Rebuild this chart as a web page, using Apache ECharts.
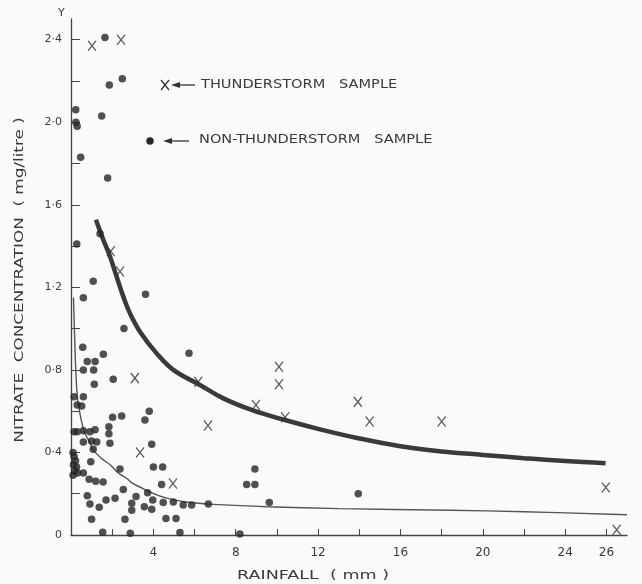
<!DOCTYPE html>
<html>
<head>
<meta charset="utf-8">
<script src="https://cdn.jsdelivr.net/npm/echarts@6/dist/echarts.min.js"></script>
<style>
html,body{margin:0;padding:0;background:#fafaf8;}
#chart{width:642px;height:584px;}
</style>
</head>
<body>
<div id="chart"></div>
<script>
// ---- Data ----
var xLabelValues = [4, 8, 12, 16, 20, 24, 26];
var xTickValues = [2, 4, 6, 8, 10, 12, 14, 16, 18, 20, 22, 24, 26];
var yLabelValues = [0, 0.4, 0.8, 1.2, 1.6, 2.0, 2.4];
var yTickValues = [0.2, 0.4, 0.6, 0.8, 1.0, 1.2, 1.4, 1.6, 1.8, 2.0, 2.2, 2.4];

var thunderstorm = [
  [1.02, 2.37], [2.43, 2.40], [1.93, 1.375], [2.38, 1.277], [3.1, 0.76],
  [3.35, 0.40], [4.95, 0.25], [6.18, 0.743], [6.65, 0.53], [8.98, 0.63],
  [10.1, 0.815], [10.1, 0.73], [10.4, 0.57], [13.93, 0.645], [14.5, 0.55],
  [18.0, 0.55], [25.97, 0.23], [26.5, 0.025]
];

var nonThunderstorm = [
  [1.81, 2.51], [1.65, 2.41], [2.49, 2.21], [1.86, 2.18], [0.23, 2.06],
  [1.49, 2.03], [0.24, 2.0], [0.3, 1.98], [0.47, 1.83], [1.78, 1.73],
  [0.28, 1.41], [1.41, 1.46], [1.08, 1.23], [0.6, 1.15], [3.62, 1.167],
  [2.57, 1.0], [5.73, 0.88], [0.57, 0.91], [0.79, 0.84], [1.17, 0.84],
  [1.57, 0.876], [0.6, 0.80], [1.1, 0.80], [1.13, 0.73], [2.05, 0.755],
  [0.6, 0.67], [0.15, 0.67], [0.52, 0.625], [0.3, 0.63],
  [2.02, 0.57], [2.46, 0.577], [1.84, 0.525], [1.84, 0.49], [3.59, 0.557],
  [3.8, 0.60], [3.92, 0.44], [1.89, 0.445],
  [0.15, 0.50], [0.3, 0.50], [0.6, 0.505], [0.92, 0.50], [1.17, 0.51],
  [0.6, 0.45], [1.0, 0.455], [1.25, 0.45], [1.08, 0.415],
  [0.1, 0.40], [0.15, 0.38], [0.22, 0.36], [0.12, 0.34], [0.27, 0.33],
  [0.18, 0.31], [0.32, 0.30], [0.1, 0.29],
  [0.96, 0.355], [0.6, 0.30], [0.88, 0.27], [1.2, 0.26], [1.56, 0.257],
  [2.38, 0.32], [4.0, 0.33], [4.45, 0.33], [4.4, 0.245],
  [0.79, 0.19], [0.92, 0.15], [1.37, 0.134], [1.7, 0.17], [2.14, 0.178],
  [2.54, 0.22], [2.95, 0.154], [2.95, 0.12], [3.16, 0.186], [3.56, 0.137],
  [3.72, 0.205], [3.92, 0.125], [3.97, 0.17], [4.48, 0.157], [4.97, 0.16],
  [5.45, 0.145], [5.86, 0.145], [6.67, 0.15], [4.61, 0.08], [5.1, 0.08],
  [1.0, 0.076], [2.62, 0.076], [1.54, 0.013], [2.88, 0.008], [5.29, 0.012],
  [8.93, 0.32], [8.53, 0.245], [8.93, 0.245], [9.63, 0.157], [13.95, 0.20],
  [8.2, 0.005]
];

var thunderCurve = [
  [1.21, 1.527], [1.57, 1.43], [1.89, 1.35], [2.22, 1.25], [2.54, 1.155],
  [2.86, 1.075], [3.35, 0.985], [4.16, 0.88], [4.97, 0.80], [6.26, 0.727],
  [7.4, 0.662], [8.8, 0.605], [10.39, 0.557], [12.09, 0.512], [13.95, 0.469],
  [16.0, 0.43], [18.0, 0.405], [20.0, 0.388], [22.0, 0.372], [24.0, 0.358],
  [25.96, 0.348]
];

var nonThunderCurve = [
  [0.12, 1.15], [0.18, 0.95], [0.24, 0.78], [0.32, 0.66], [0.45, 0.58],
  [0.65, 0.50], [0.9, 0.45], [1.1, 0.41], [1.5, 0.37], [1.9, 0.34],
  [2.3, 0.30], [2.7, 0.275], [3.0, 0.25], [3.5, 0.225], [3.9, 0.205],
  [4.6, 0.18], [5.6, 0.16], [7.2, 0.147], [9.5, 0.137], [13, 0.128],
  [18.4, 0.12], [22, 0.113], [27.0, 0.098]
];

var font = 'DejaVu Sans';
var txt = '#3a3a3a';
var xSymbol = 'path://M0,0L9,12M9,0L0,12';

var chart = echarts.init(document.getElementById('chart'));
chart.setOption({
  backgroundColor: '#fafaf8',
  animation: false,
  grid: { left: 71, right: 15, top: 19, bottom: 49 },
  xAxis: {
    type: 'value', min: 0, max: 27,
    splitLine: { show: false },
    axisLine: { lineStyle: { color: '#444', width: 1.3 } },
    axisTick: { inside: true, length: 6, customValues: xTickValues, lineStyle: { color: '#444' } },
    axisLabel: {
      customValues: xLabelValues, margin: 12,
      fontFamily: font, fontSize: 12, color: txt
    }
  },
  yAxis: {
    type: 'value', min: 0, max: 2.5,
    splitLine: { show: false },
    axisLine: { lineStyle: { color: '#444', width: 1.3 } },
    axisTick: { inside: true, length: 9, customValues: yTickValues, lineStyle: { color: '#444' } },
    axisLabel: {
      customValues: yLabelValues, margin: 9,
      fontFamily: font, fontSize: 11, color: txt,
      formatter: function (v) { return v === 0 ? '0' : v.toFixed(1).replace('.', '\u00B7'); }
    }
  },
  series: [
    {
      name: 'thunderstorm fit', type: 'line', data: thunderCurve, smooth: 0.4,
      showSymbol: false, silent: true,
      lineStyle: { color: '#3a3a3a', width: 4.5 }, z: 2
    },
    {
      name: 'non-thunderstorm fit', type: 'line', data: nonThunderCurve, smooth: 0.4,
      showSymbol: false, silent: true,
      lineStyle: { color: '#555', width: 1.4 }, z: 2
    },
    {
      name: 'NON-THUNDERSTORM SAMPLE', type: 'scatter', data: nonThunderstorm,
      symbol: 'circle', symbolSize: 7.5,
      itemStyle: { color: '#262626' }, z: 3
    },
    {
      name: 'THUNDERSTORM SAMPLE', type: 'scatter', data: thunderstorm,
      symbol: xSymbol, symbolSize: [8, 10],
      itemStyle: { color: 'transparent', borderColor: '#333', borderWidth: 1.3 }, z: 4
    }
  ],
  graphic: [
    { type: 'text', left: 58, top: 8, style: { text: 'Y', fontFamily: font, fontSize: 11, fill: txt } },
    {
      type: 'text', x: 20, y: 280, rotation: Math.PI / 2, scaleX: 1.4,
      style: {
        text: 'NITRATE  CONCENTRATION  ( mg/litre )', fontFamily: font, fontSize: 12,
        fill: txt, align: 'center', verticalAlign: 'middle'
      }
    },
    {
      type: 'text', x: 313, y: 576, scaleX: 1.35,
      style: {
        text: 'RAINFALL  ( mm )', fontFamily: font, fontSize: 13,
        fill: txt, align: 'center', verticalAlign: 'middle'
      }
    },
    // legend: thunderstorm
    { type: 'line', shape: { x1: 161, y1: 80, x2: 169, y2: 90 }, style: { stroke: '#333', lineWidth: 1.3 } },
    { type: 'line', shape: { x1: 169, y1: 80, x2: 161, y2: 90 }, style: { stroke: '#333', lineWidth: 1.3 } },
    { type: 'polygon', shape: { points: [[171, 85], [180, 82], [180, 88]] }, style: { fill: '#333' } },
    { type: 'line', shape: { x1: 180, y1: 85, x2: 195, y2: 85 }, style: { stroke: '#333', lineWidth: 1.3 } },
    {
      type: 'text', x: 201, y: 85, scaleX: 1.12,
      style: { text: 'THUNDERSTORM   SAMPLE', fontFamily: font, fontSize: 13, fill: txt, align: 'left', verticalAlign: 'middle' }
    },
    // legend: non-thunderstorm
    { type: 'circle', shape: { cx: 150, cy: 141, r: 3.7 }, style: { fill: '#262626' } },
    { type: 'polygon', shape: { points: [[163, 141], [172, 138], [172, 144]] }, style: { fill: '#333' } },
    { type: 'line', shape: { x1: 172, y1: 141, x2: 189, y2: 141 }, style: { stroke: '#333', lineWidth: 1.3 } },
    {
      type: 'text', x: 199, y: 140, scaleX: 1.12,
      style: { text: 'NON-THUNDERSTORM   SAMPLE', fontFamily: font, fontSize: 13, fill: txt, align: 'left', verticalAlign: 'middle' }
    }
  ]
});
</script>
</body>
</html>
